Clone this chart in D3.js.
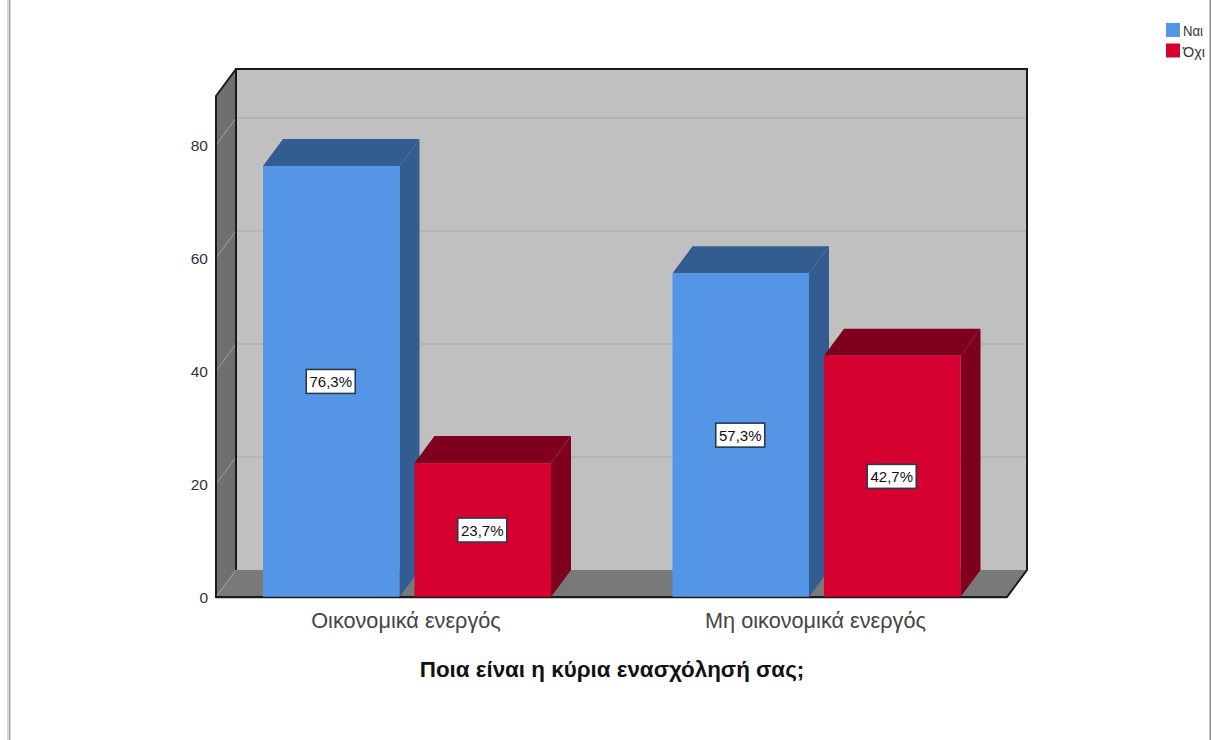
<!DOCTYPE html>
<html><head><meta charset="utf-8">
<script src="https://cdnjs.cloudflare.com/ajax/libs/d3/7.8.5/d3.min.js"></script>
<style>html,body{margin:0;padding:0;background:#fff;overflow:hidden}svg{display:block}text{font-family:"Liberation Sans",Arial,sans-serif}</style>
</head><body><svg id="c" width="1211" height="740"></svg>
<script>
const categories = ["Οικονομικά ενεργός", "Μη οικονομικά ενεργός"];
const seriesNames = ["Ναι", "Όχι"];
const naiValues = [76.3, 57.3];
const oxiValues = [23.7, 42.7];
const valueLabels = [["76,3%", "57,3%"], ["23,7%", "42,7%"]];
const yTicks = [0, 20, 40, 60, 80];
const xTitle = "Ποια είναι η κύρια ενασχόλησή σας;";
const frontColors = ["#5595e5", "#d60030"];
const topColors = ["#335c90", "#7f001c"];
const sideColors = ["#335c90", "#7f001c"];

const svg = d3.select("#c");
const dx = 20, dy = -27;
const x0 = 216, x1 = 1007, yBase = 597, yMaxPx = 96;
const y = d3.scaleLinear().domain([0, 88.67]).range([yBase, yMaxPx]);
const xCat = d3.scalePoint().domain(categories).range([407, 816.5]);
const barW = 136.5, gap = 15;
const xSeries = d3.scaleBand().domain(seriesNames).range([-(barW + gap / 2), barW + gap / 2]).paddingInner(gap / (barW + gap));
const poly = (pts, fill, stroke, sw) => svg.append("polygon").attr("points", pts.map(p => p.join(",")).join(" ")).attr("fill", fill).attr("stroke", stroke || "none").attr("stroke-width", sw || 0);

// frame
svg.append("rect").attr("x", 7).attr("y", 0).attr("width", 2).attr("height", 740).attr("fill", "#d8d8d8");
svg.append("rect").attr("x", 9).attr("y", 0).attr("width", 1.5).attr("height", 740).attr("fill", "#a8a8a8");
svg.append("rect").attr("x", 1209.5).attr("y", 0).attr("width", 1.5).attr("height", 740).attr("fill", "#8c8c8c");

const yTop = y.range()[1];
// walls
poly([[x0 + dx, yBase + dy], [x1 + dx, yBase + dy], [x1 + dx, yTop + dy], [x0 + dx, yTop + dy]], "#c0c0c0");
poly([[x0, yBase], [x0 + dx, yBase + dy], [x0 + dx, yTop + dy], [x0, yTop]], "#6f6f6f");
poly([[x0, yBase], [x1, yBase], [x1 + dx, yBase + dy], [x0 + dx, yBase + dy]], "#797979");

// gridlines
yTicks.forEach(t => {
  if (t > 0) svg.append("line").attr("x1", x0 + dx).attr("x2", x1 + dx).attr("y1", y(t) + dy).attr("y2", y(t) + dy).attr("stroke", "#b0b0b0").attr("stroke-width", 1.5);
  svg.append("line").attr("x1", x0).attr("x2", x0 + dx).attr("y1", y(t)).attr("y2", y(t) + dy).attr("stroke", "#a0a0a0").attr("stroke-width", 1);
});

// wall outlines
const outline = (pts, w) => svg.append("path").attr("d", d3.line()(pts)).attr("fill", "none").attr("stroke", "#1a1a1a").attr("stroke-width", w);
outline([[x0 + dx, yBase + dy], [x0 + dx, yTop + dy], [x1 + dx, yTop + dy], [x1 + dx, yBase + dy], [x1, yBase], [x0, yBase], [x0, yTop], [x0 + dx, yTop + dy]], 2);

// bars
const series = [naiValues, oxiValues];
seriesNames.forEach((s, si) => {
  categories.forEach((c, ci) => {
    const v = series[si][ci];
    const l = xCat(c) + xSeries(s), r = l + xSeries.bandwidth(), t = y(v);
    poly([[r, yBase], [r + dx, yBase + dy], [r + dx, t + dy], [r, t]], sideColors[si]);
    poly([[l, t], [r, t], [r + dx, t + dy], [l + dx, t + dy]], topColors[si]);
    svg.append("rect").attr("x", l).attr("y", t).attr("width", xSeries.bandwidth()).attr("height", yBase - t).attr("fill", frontColors[si]);
  });
});
// axis line above bars' feet
svg.append("line").attr("x1", x0).attr("x2", x1).attr("y1", yBase + .5).attr("y2", yBase + .5).attr("stroke", "#1a1a1a").attr("stroke-width", 1.5);

// value labels
seriesNames.forEach((s, si) => {
  categories.forEach((c, ci) => {
    const v = series[si][ci];
    const cx = xCat(c) + xSeries(s) + barW / 2 - 0.5, cy = (y(v) + yBase) / 2;
    svg.append("rect").attr("x", cx - 24.5).attr("y", cy - 12).attr("width", 49).attr("height", 24).attr("fill", "#fff").attr("stroke", "#2a3a4a").attr("stroke-width", 1.6);
    svg.append("text").attr("x", cx).attr("y", cy + 5.5).attr("text-anchor", "middle").attr("font-size", 15).attr("fill", "#111").text(valueLabels[si][ci]);
  });
});

// y axis
const axis = svg.append("g").attr("transform", `translate(${x0},1)`).call(d3.axisLeft(y).tickValues(yTicks).tickSize(0).tickPadding(8).tickFormat(d3.format("d")));
axis.select(".domain").remove();
axis.selectAll("text").attr("font-size", 15.5).attr("fill", "#333").style("font-family", '"Liberation Sans",Arial,sans-serif');

// category labels
svg.selectAll(".cat").data(categories).join("text").attr("class", "cat").attr("x", d => xCat(d) - 1).attr("y", 628).attr("text-anchor", "middle").attr("font-size", 21.7).attr("fill", "#444").text(d => d);
svg.append("text").attr("x", 612).attr("y", 677).attr("text-anchor", "middle").attr("font-size", 22.4).attr("font-weight", "bold").attr("fill", "#111").text(xTitle);

// legend
seriesNames.forEach((s, i) => {
  const ly = 23 + i * 20.5;
  svg.append("rect").attr("x", 1166).attr("y", ly).attr("width", 14).attr("height", 14).attr("fill", frontColors[i]);
  svg.append("text").attr("x", 1183).attr("y", ly + 13).attr("font-size", 14).attr("fill", "#333").attr("textLength", i ? 22 : 20).attr("lengthAdjust", "spacingAndGlyphs").text(s);
});
</script></body></html>
